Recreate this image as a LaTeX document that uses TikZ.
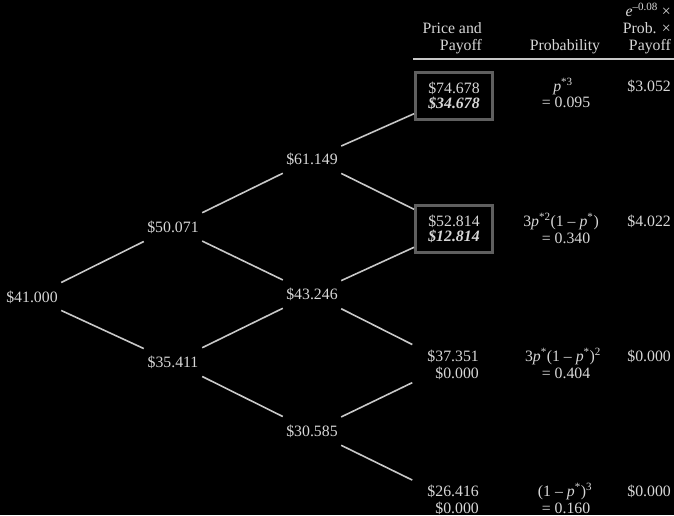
\documentclass[tikz,border=0pt]{standalone}
\usepackage{fontspec}
\setmainfont{Liberation Serif}
\definecolor{txt}{RGB}{215,215,215}
\definecolor{edge}{RGB}{200,200,200}
\definecolor{boxc}{RGB}{95,95,95}
\begin{document}
\begin{tikzpicture}[x=1pt,y=-1pt,
  every node/.style={text=txt,font=\fontsize{15.8}{16.5}\selectfont},
  tnode/.style={minimum width=58pt,minimum height=32pt,inner sep=0pt},
  leaf/.style={minimum width=77pt,minimum height=47pt,inner sep=0pt,align=center},
  hilite/.style={leaf,draw=boxc,line width=3pt},
  conn/.style={draw=edge,line width=1.6pt},
  plain/.style={inner sep=0pt,anchor=base}]
\fill[black] (0,0) rectangle (674,515);
\useasboundingbox (0,0) rectangle (674,515);

% tree nodes
\node[tnode] (n0) at (32,297) {\$41.000};
\node[tnode] (u1) at (173,227) {\$50.071};
\node[tnode] (d1) at (173,362) {\$35.411};
\node[tnode] (uu) at (312,159) {\$61.149};
\node[tnode] (ud) at (312,294) {\$43.246};
\node[tnode] (dd) at (312,431) {\$30.585};
\node[hilite] (l1) at (454,96) {\$74.678\\[-1.5pt]\textbf{\textit{\$34.678}}};
\node[hilite] (l2) at (454,229) {\$52.814\\[-1.5pt]\textbf{\textit{\$12.814}}};
\node[leaf] (l3) at (451,364) {};
\node[leaf] (l4) at (451,499) {};
\node[plain,anchor=base east] (l3a) at (479,361) {\$37.351};
\node[plain,anchor=base east] (l3b) at (479,378) {\$0.000};
\node[plain,anchor=base east] (l4a) at (479,496) {\$26.416};
\node[plain,anchor=base east] (l4b) at (479,513) {\$0.000};

% connectors
\path[conn] (n0) -- (u1);
\path[conn] (n0) -- (d1);
\path[conn] (u1) -- (uu);
\path[conn] (u1) -- (ud);
\path[conn] (d1) -- (ud);
\path[conn] (d1) -- (dd);
\path[conn] (uu) -- (l1);
\path[conn] (uu) -- (l2);
\path[conn] (ud) -- (l2);
\path[conn] (ud) -- (l3);
\path[conn] (dd) -- (l3);
\path[conn] (dd) -- (l4);

% header
\node[plain,anchor=base east] (h1) at (482,33) {Price and};
\node[plain,anchor=base east] (h2) at (482,50) {Payoff};
\node[plain] (h3) at (565,50) {Probability};
\node[plain,anchor=base east] (h4) at (671,16) {\textit{e}\textsuperscript{–0.08} ×};
\node[plain,anchor=base east] (h5) at (671,33) {Prob. ×};
\node[plain,anchor=base east] (h6) at (671,50) {Payoff};
\coordinate (r1) at (413,59);
\coordinate (r2) at (674,59);
\draw[draw=edge,line width=1.2pt] (r1) -- (r2);

% probability column
\node[plain] (p1a) at (563,91) {\textit{p}\textsuperscript{*3}};
\node[plain] (p1b) at (566,107) {= 0.095};
\node[plain] (p2a) at (561,226) {3\textit{p}\textsuperscript{*2}(1 – \textit{p}\textsuperscript{*})};
\node[plain] (p2b) at (566,243) {= 0.340};
\node[plain] (p3a) at (563,361) {3\textit{p}\textsuperscript{*}(1 – \textit{p}\textsuperscript{*})\textsuperscript{2}};
\node[plain] (p3b) at (566,378) {= 0.404};
\node[plain] (p4a) at (565,496) {(1 – \textit{p}\textsuperscript{*})\textsuperscript{3}};
\node[plain] (p4b) at (566,513) {= 0.160};

% value column
\node[plain,anchor=base east] (v1) at (671,91) {\$3.052};
\node[plain,anchor=base east] (v2) at (671,226) {\$4.022};
\node[plain,anchor=base east] (v3) at (671,361) {\$0.000};
\node[plain,anchor=base east] (v4) at (671,496) {\$0.000};
\end{tikzpicture}
\end{document}
